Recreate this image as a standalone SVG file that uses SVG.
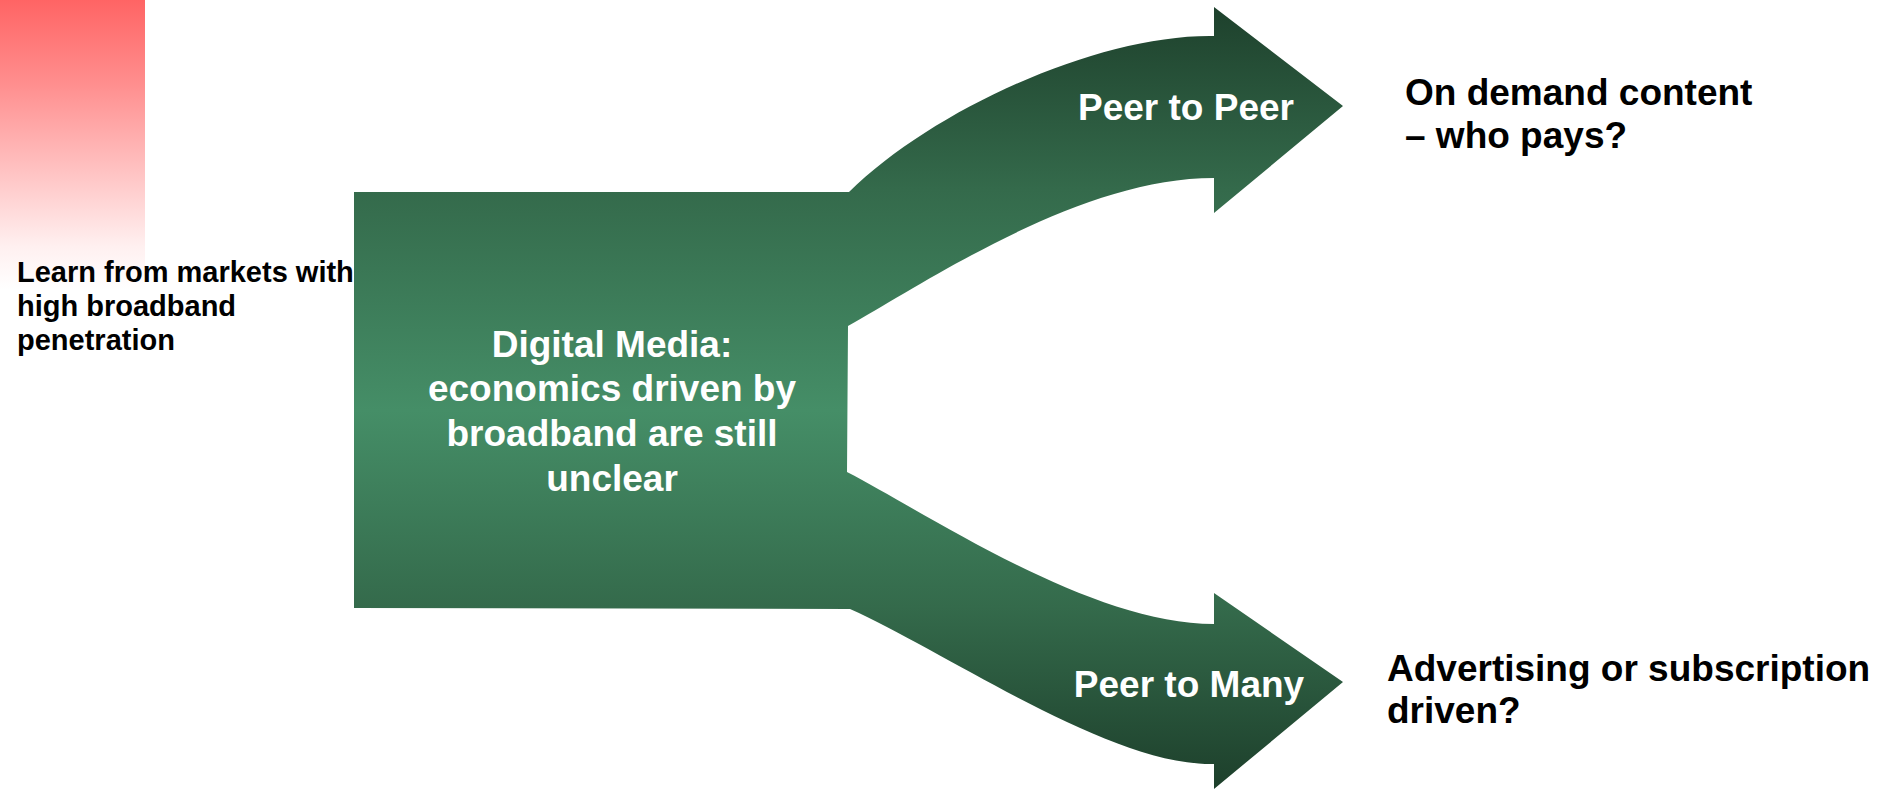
<svg xmlns="http://www.w3.org/2000/svg" width="1888" height="789" viewBox="0 0 1888 789">
<style>
.t{font-family:"Liberation Sans",Arial,sans-serif;font-weight:bold}
.w{fill:#ffffff;font-size:37px;text-anchor:middle}
.b{fill:#000000;font-size:37px}
.s{fill:#000000;font-size:29px}
.g{fill:url(#green)}
</style>
<defs>
<linearGradient id="green" gradientUnits="userSpaceOnUse" x1="0" y1="0" x2="0" y2="789">
<stop offset="0" stop-color="#1d3f2b"/>
<stop offset="0.24" stop-color="#346a4b"/>
<stop offset="0.52" stop-color="#458e67"/>
<stop offset="0.77" stop-color="#346a4b"/>
<stop offset="1" stop-color="#1d3f2b"/>
</linearGradient>
<linearGradient id="pink" x1="0" y1="0" x2="0" y2="1">
<stop offset="0" stop-color="#ff6464"/>
<stop offset="0.3" stop-color="#ff9090"/>
<stop offset="0.6" stop-color="#ffc4c4"/>
<stop offset="0.85" stop-color="#fff0f0"/>
<stop offset="1" stop-color="#ffffff"/>
</linearGradient>
</defs>
<rect x="0" y="0" width="1888" height="789" fill="#ffffff"/>
<rect x="0" y="0" width="145" height="290" fill="url(#pink)"/>
<g id="connectors">
<path id="arrow-peer-to-peer" class="g" d="M838,192 L849,192 C935,108 1100,34 1214,36 L1214,7 L1343,106 L1214,213 L1214,178 C1080,178 930,280 848,326 L838,326 Z"/>
<path id="arrow-peer-to-many" class="g" d="M838,472 L847,472 C930,515 1090,624 1214,624 L1214,593 L1343,682 L1214,789 L1214,764 C1110,766 950,654 850,609 L838,609 Z"/>
</g>
<g id="node-digital-media">
<path class="g" d="M354,192 L849,192 L848,326 L847,472 L850,609 L354,608 Z"/>
<text class="t w" x="612" y="357">Digital Media:</text>
<text class="t w" x="612" y="401">economics driven by</text>
<text class="t w" x="612" y="446">broadband are still</text>
<text class="t w" x="612" y="491">unclear</text>
</g>
<g id="label-peer-to-peer">
<text class="t w" x="1186" y="120">Peer to Peer</text>
</g>
<g id="label-peer-to-many">
<text class="t w" x="1189" y="697">Peer to Many</text>
</g>
<g id="node-learn">
<text class="t s" x="17" y="282">Learn from markets with</text>
<text class="t s" x="17" y="316">high broadband</text>
<text class="t s" x="17" y="350">penetration</text>
</g>
<g id="node-on-demand">
<text class="t b" x="1405" y="105">On demand content</text>
<text class="t b" x="1405" y="148">– who pays?</text>
</g>
<g id="node-advertising">
<text class="t b" x="1387" y="681">Advertising or subscription</text>
<text class="t b" x="1387" y="723">driven?</text>
</g>
</svg>
